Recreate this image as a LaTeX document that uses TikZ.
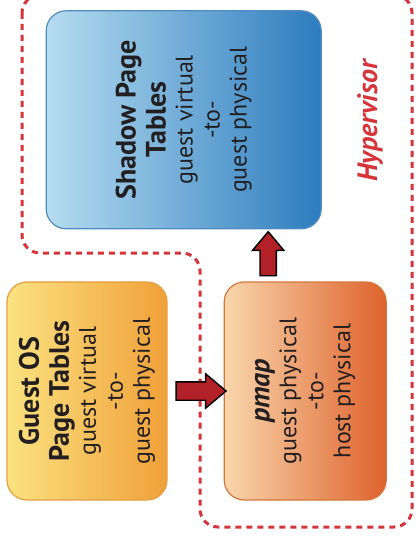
\documentclass[tikz,border=0pt]{standalone}
\usepackage{fontspec}
\setmainfont{PT Sans}
\usetikzlibrary{shapes.arrows, positioning}
\definecolor{GuestLight}{RGB}{251,226,128}
\definecolor{GuestDark}{RGB}{240,160,58}
\definecolor{GuestEdge}{RGB}{228,158,62}
\definecolor{PmapLight}{RGB}{248,214,172}
\definecolor{PmapDark}{RGB}{222,98,44}
\definecolor{PmapEdge}{RGB}{212,118,58}
\definecolor{ShadowLight}{RGB}{182,220,240}
\definecolor{ShadowDark}{RGB}{44,124,190}
\definecolor{ShadowEdge}{RGB}{82,140,190}
\definecolor{ArrowRed}{RGB}{178,32,40}
\definecolor{HyperRed}{RGB}{214,52,56}
\definecolor{InkGray}{RGB}{35,31,32}
\newcommand{\titlefont}{\fontsize{28}{30}\selectfont\bfseries}
\newcommand{\bodyfont}{\normalfont\fontsize{24}{27}\selectfont}
\newcommand{\sidetext}[2]{\rotatebox{90}{\parbox{210pt}{\centering\titlefont #1\par\bodyfont #2}}}

\begin{document}
\begin{tikzpicture}[
    x=1pt, y=-1pt,
    tbox/.style={draw, rounded corners=20pt, line width=1.2pt, inner sep=0pt, minimum height=218pt, text=InkGray},
    guestfill/.style={left color=GuestLight, right color=GuestDark, draw=GuestEdge},
    pmapfill/.style={left color=PmapLight, right color=PmapDark, draw=PmapEdge},
    shadowfill/.style={left color=ShadowLight, right color=ShadowDark, draw=ShadowEdge},
    fatarrow/.style={shape=single arrow, draw=black, fill=ArrowRed, line width=1.4pt, inner xsep=0pt, inner ysep=8.5pt, single arrow head extend=8pt, single arrow tip angle=80, minimum height=50pt},
    hyperline/.style={draw=HyperRed, line width=3pt, dash pattern=on 6pt off 5pt, rounded corners=18pt}
]
\useasboundingbox (0,0) rectangle (417,545);
\clip (0,0) rectangle (417,545);
% hypervisor region
\draw[hyperline] (22,-5) -- (22,253) -- (200,253) -- (200,527) -- (412,527) -- (412,-5) -- cycle;
\node[text=HyperRed, font=\fontsize{28}{28}\selectfont\bfseries\itshape, rotate=90] (hyper) at (370,121) {Hypervisor};
% tables
\node[tbox, guestfill, minimum width=160pt] (guest) at (87,391) {\sidetext{Guest OS\\Page Tables}{guest virtual\\-to-\\guest physical}};
\node[tbox, pmapfill, minimum width=162pt, right=56pt of guest] (pmap) {\sidetext{\itshape pmap}{guest physical\\-to-\\host physical}};
\node[tbox, shadowfill, minimum width=275pt, above=52pt of pmap, xshift=-121.5pt] (shadow) {\sidetext{Shadow Page\\Tables}{guest virtual\\-to-\\guest physical}};
% arrows
\path (guest) -- node[fatarrow] (push) {} (pmap);
\node[fatarrow, rotate=90, inner ysep=7.5pt, minimum height=44pt, single arrow head extend=7.5pt, anchor=tail] (lift) at ([xshift=-37pt, yshift=5pt]pmap.north) {};
\end{tikzpicture}
\end{document}
